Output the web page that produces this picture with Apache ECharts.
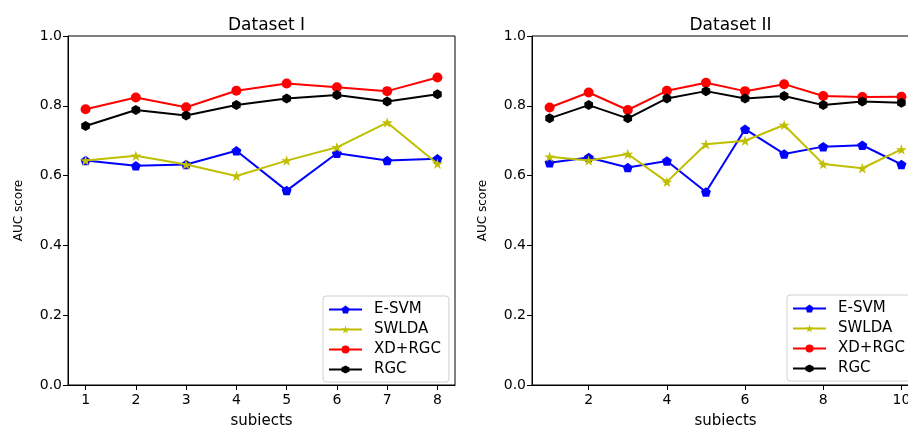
<!DOCTYPE html>
<html>
<head>
<meta charset="utf-8">
<script src="https://cdn.jsdelivr.net/npm/echarts@6/dist/echarts.min.js"></script>
<style>html,body{margin:0;padding:0;background:#fff}#c{width:908px;height:425px}</style>
</head>
<body>
<div id="c"></div>
<script>
// ---- Data ----
const subjects1 = [1, 2, 3, 4, 5, 6, 7, 8];
const subjects2 = [1, 2, 3, 4, 5, 6, 7, 8, 9, 10];
const seriesNames = ['E-SVM', 'SWLDA', 'XD+RGC', 'RGC'];
const ds1_esvm  = [0.643, 0.628, 0.632, 0.671, 0.557, 0.664, 0.643, 0.648];
const ds1_swlda = [0.643, 0.657, 0.632, 0.599, 0.643, 0.681, 0.752, 0.634];
const ds1_xdrgc = [0.790, 0.824, 0.796, 0.843, 0.864, 0.853, 0.842, 0.881];
const ds1_rgc   = [0.742, 0.788, 0.772, 0.802, 0.821, 0.831, 0.812, 0.833];
const ds2_esvm  = [0.637, 0.652, 0.623, 0.642, 0.553, 0.733, 0.662, 0.683, 0.687, 0.632];
const ds2_swlda = [0.654, 0.643, 0.662, 0.582, 0.690, 0.700, 0.745, 0.633, 0.621, 0.675];
const ds2_xdrgc = [0.795, 0.838, 0.788, 0.843, 0.866, 0.842, 0.862, 0.828, 0.825, 0.826];
const ds2_rgc   = [0.764, 0.802, 0.764, 0.821, 0.842, 0.821, 0.828, 0.802, 0.812, 0.809];
const xTicks1 = [1, 2, 3, 4, 5, 6, 7, 8];
const xTicks2 = [2, 4, 6, 8, 10];
const titles = ['Dataset I', 'Dataset II'];

// ---- Styles ----
const FONT = 'DejaVu Sans';
const colors = ['#0000ff', '#bfbf00', '#ff0000', '#000000'];
const PENTAGON = 'path://M50 0 L97.55 34.55 L79.39 90.45 L20.61 90.45 L2.45 34.55 Z';
const STAR = 'path://M50 0 L61.2 34.5 L97.6 34.5 L68.2 55.9 L79.4 90.5 L50 69.1 L20.6 90.5 L31.8 55.9 L2.4 34.5 L38.8 34.5 Z';
const HEXAGON = 'path://M50 0 L93.3 25 L93.3 75 L50 100 L6.7 75 L6.7 25 Z';
const symbols = [PENTAGON, STAR, 'circle', HEXAGON];
const symSizes = [10, 11, 10, 10];

const grids = [
  {left: 68, top: 36, width: 387, height: 349},
  {left: 532, top: 36, width: 387, height: 349}
];

function xAxis(idx, min, max, ticks) {
  return {
    type: 'value', gridIndex: idx, min: min, max: max,
    axisLine: {show: true, onZero: false, lineStyle: {color: '#000', width: 1}},
    axisTick: {show: true, length: 5, lineStyle: {color: '#000'}, customValues: ticks},
    axisLabel: {show: true, color: '#000', fontFamily: FONT, fontSize: 14, margin: 8, customValues: ticks,
      formatter: v => String(v)},
    splitLine: {show: false},
    name: 'subjects', nameLocation: 'middle', nameGap: 29,
    nameTextStyle: {color: '#000', fontFamily: FONT, fontSize: 15}
  };
}
function yAxis(idx) {
  return {
    type: 'value', gridIndex: idx, min: 0, max: 1, interval: 0.2,
    axisLine: {show: true, lineStyle: {color: '#000', width: 1}},
    axisTick: {show: true, length: 5, lineStyle: {color: '#000'}},
    axisLabel: {color: '#000', fontFamily: FONT, fontSize: 14, margin: 6, formatter: v => v.toFixed(1)},
    splitLine: {show: false},
    name: 'AUC score', nameLocation: 'middle', nameGap: 43,
    nameTextStyle: {color: '#000', fontFamily: FONT, fontSize: 12}
  };
}

function mk(name, i, xs, ys, gi) {
  return {
    type: 'line', name: name, xAxisIndex: gi, yAxisIndex: gi,
    data: xs.map((x, k) => [x, ys[k]]),
    symbol: symbols[i], symbolSize: symSizes[i], symbolKeepAspect: true,
    showAllSymbol: true,
    lineStyle: {color: colors[i], width: 2},
    itemStyle: {color: colors[i], borderWidth: 0},
    emphasis: {disabled: true},
    animation: false, z: 2 + i
  };
}

const d1 = [ds1_esvm, ds1_swlda, ds1_xdrgc, ds1_rgc];
const d2 = [ds2_esvm, ds2_swlda, ds2_xdrgc, ds2_rgc];
const series = [];
seriesNames.forEach((n, i) => series.push(mk(n, i, subjects1, d1[i], 0)));
seriesNames.forEach((n, i) => series.push(mk(n, i, subjects2, d2[i], 1)));

function legend(left, top) {
  return {
    orient: 'vertical', left: left, top: top,
    data: seriesNames,
    itemWidth: 33, itemHeight: 10, itemGap: 3,
    padding: [5, 8, 4, 5],
    borderColor: '#d0d0d0', borderWidth: 1, borderRadius: 3,
    backgroundColor: 'rgba(255,255,255,0.8)',
    textStyle: {color: '#000', fontFamily: FONT, fontSize: 15, lineHeight: 17, padding: [0, 0, 0, 7]},
    selectedMode: false
  };
}

const chart = echarts.init(document.getElementById('c'), null, {renderer: 'canvas'});
chart.setOption({
  animation: false,
  backgroundColor: '#fff',
  title: titles.map((t, i) => ({
    text: t, left: grids[i].left + grids[i].width / 2, top: 12, textAlign: 'center',
    textStyle: {color: '#000', fontFamily: FONT, fontSize: 17, fontWeight: 'normal'}
  })),
  grid: grids.map(g => Object.assign({show: true, borderColor: '#000', borderWidth: 1,
    backgroundColor: 'transparent', containLabel: false, outerBoundsMode: 'none'}, g)),
  xAxis: [xAxis(0, 0.65, 8.35, xTicks1), xAxis(1, 0.55, 10.45, xTicks2)],
  yAxis: [yAxis(0), yAxis(1)],
  legend: [legend(323, 296), legend(787, 295)],
  series: series
});
</script>
</body>
</html>
